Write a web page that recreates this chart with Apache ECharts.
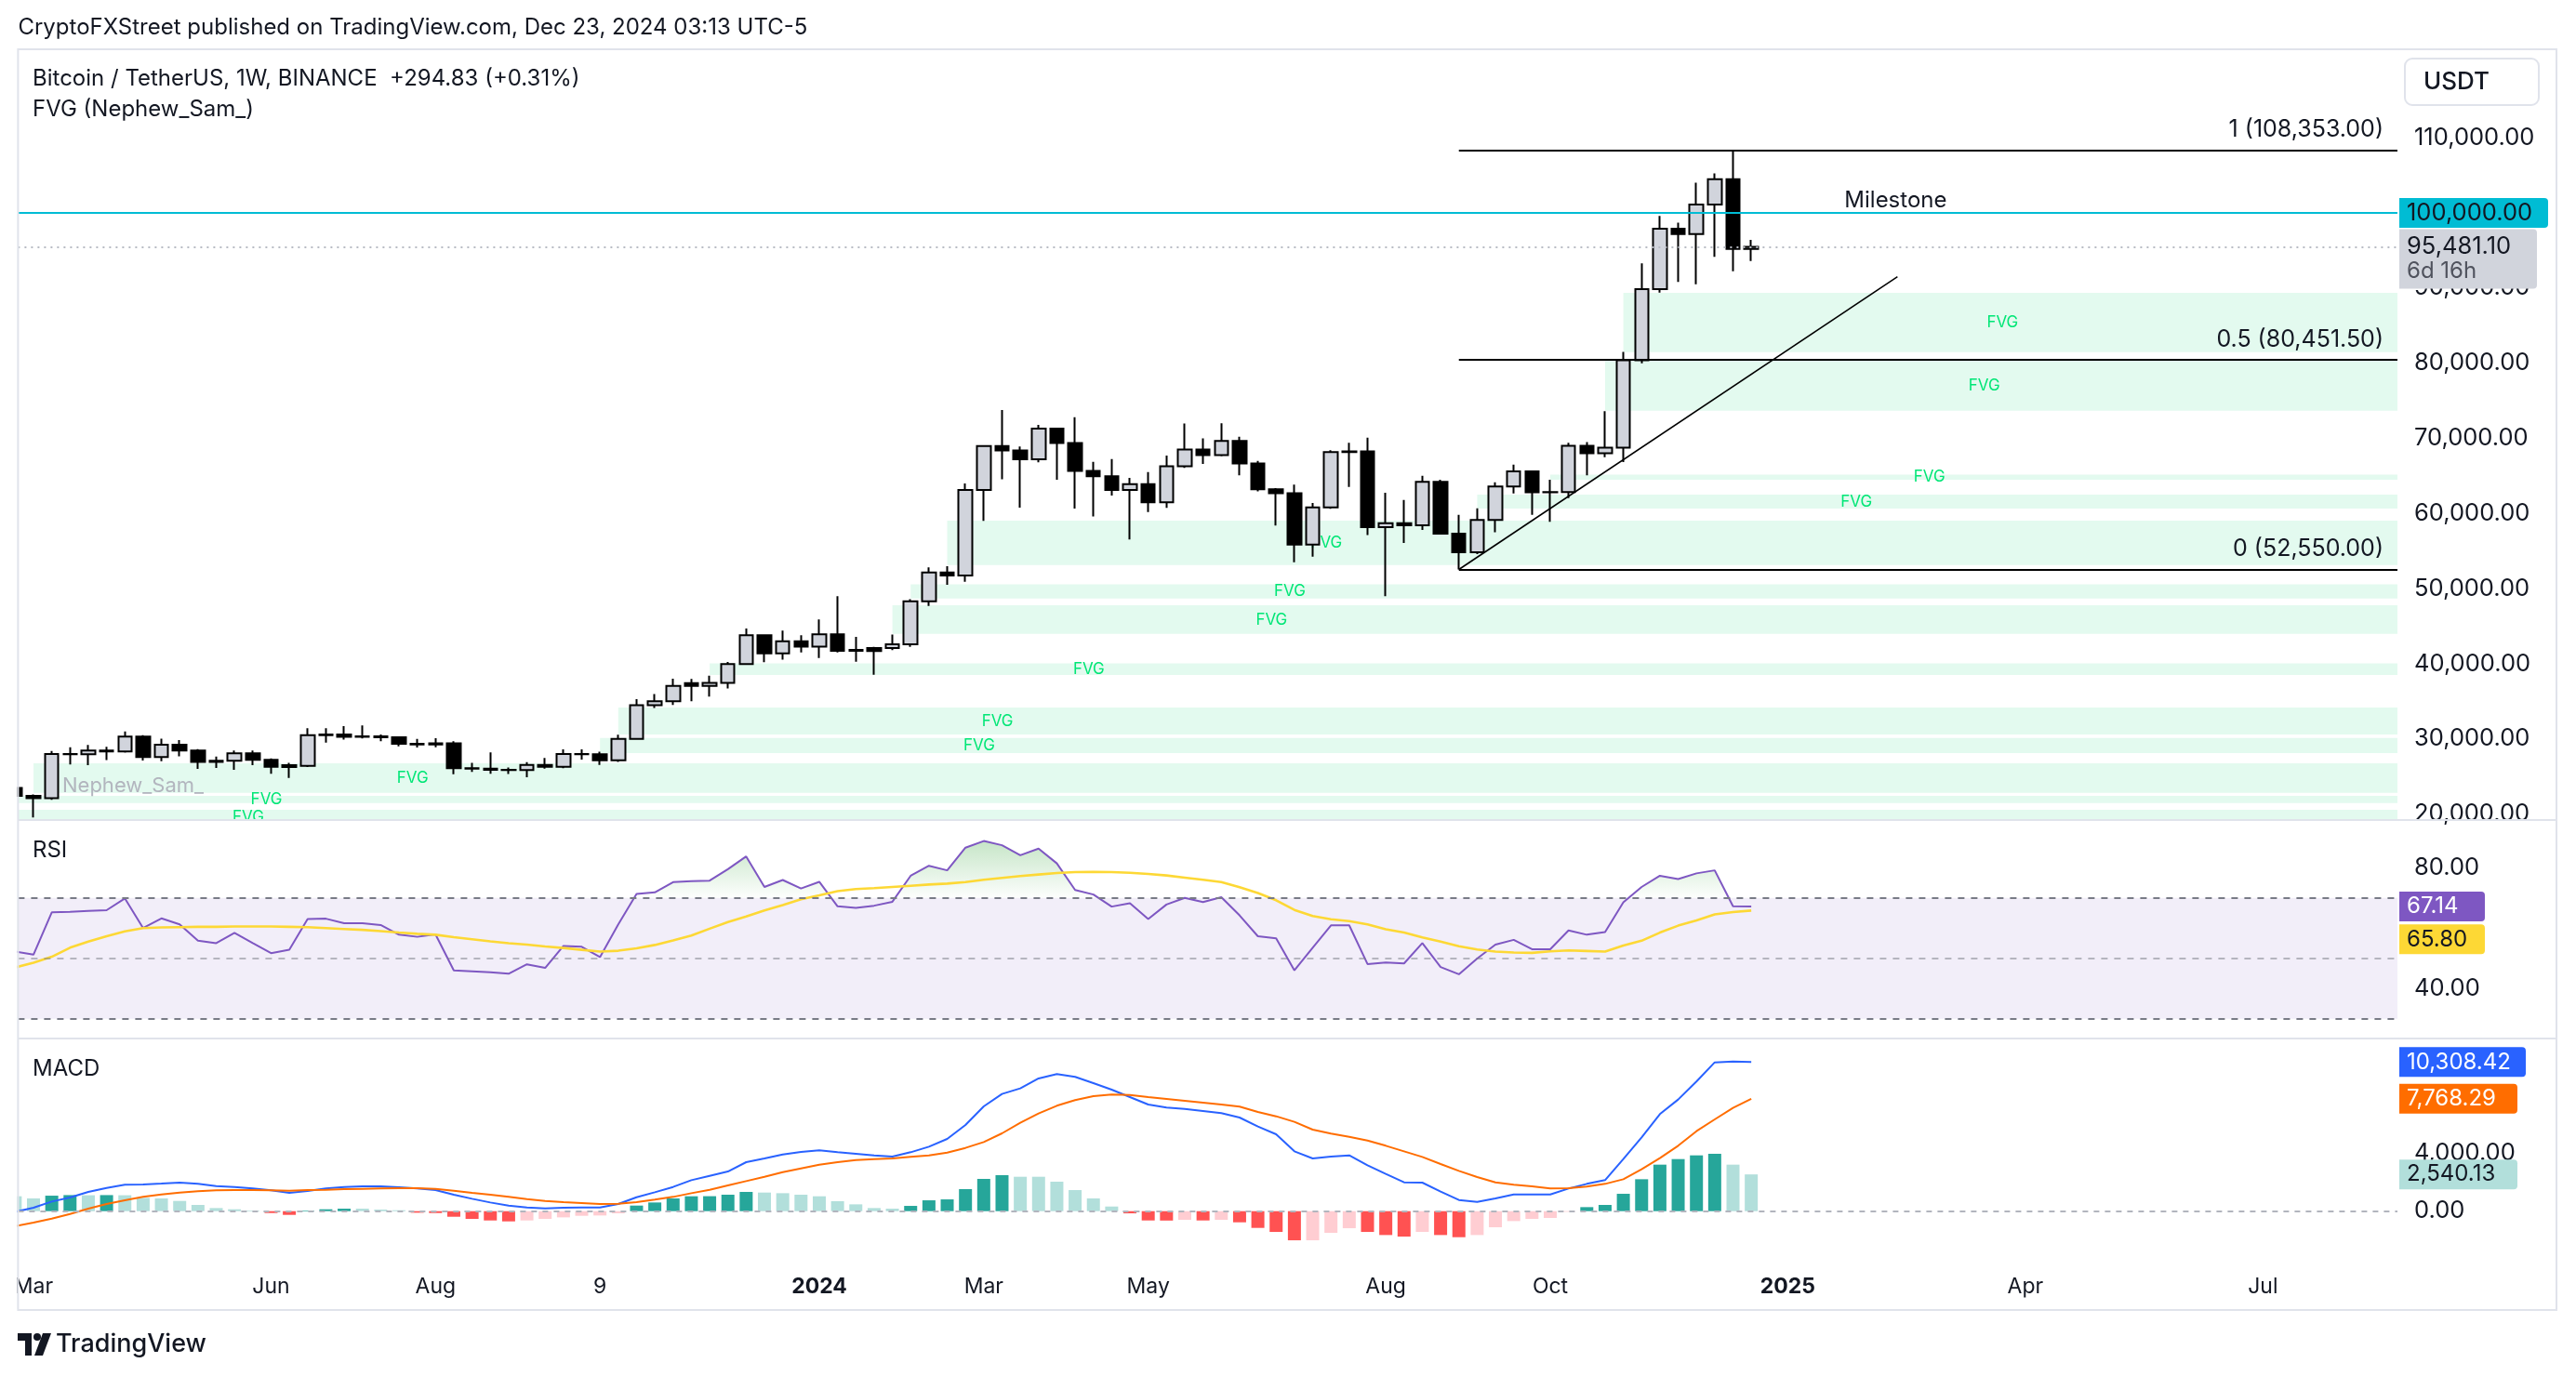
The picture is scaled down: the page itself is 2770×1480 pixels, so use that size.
<!DOCTYPE html>
<html><head><meta charset="utf-8">
<script src="https://cdn.jsdelivr.net/npm/echarts@6/dist/echarts.min.js"></script>
<style>html,body{margin:0;padding:0;background:#fff}#c{width:2770px;height:1480px}</style>
</head><body><div id="c"></div>
<script>
// Weekly BTC/USDT candles, first bar = week of 2023-02-27 (index -1), last = week of 2024-12-23 (index 94)
const firstIndex = -1;
const open = [23490,22430,22120,28000,27970,28450,28320,30300,27600,29230,
 28450,26930,27100,28080,27230,26500,26400,30500,30600,30280,
 30330,30230,29360,29250,29400,26100,26050,25900,25850,26550,
 26300,27980,27950,27150,29990,34500,35010,37420,37060,37450,
 39970,43790,41370,42990,42280,43930,41730,42085,42085,42580,
 48300,52140,51730,63110,68960,68390,67210,71280,69360,65660,
 64940,63120,63900,61480,66270,68500,67770,69650,66640,63210,
 62680,55860,60800,68165,68250,58160,58710,58425,64220,57300,
 54840,59130,63580,65600,62820,62850,69000,68020,68740,80370,
 89855,97900,97185,101110,104463,95186.27];
const high = [23880,22600,28390,28880,29200,28950,31000,30500,30040,29840,
 28630,27660,28450,28450,27400,26800,31430,31430,31700,31800,
 30600,30330,30000,30100,29700,26800,28200,26200,26900,27480,
 28600,28600,28300,30550,35300,35980,38000,37980,38420,40250,
 44700,43800,44400,43800,45900,49000,43580,42260,43880,48590,
 52820,52985,64000,69000,73777,68920,71770,71340,72800,66870,
 67230,64730,65500,67700,71980,70000,71997,70195,67000,63370,
 63850,61400,68400,69400,70080,62750,61800,65000,64480,59800,
 60670,64130,66500,65620,64480,69400,69500,73620,81500,93265,
 99588,98700,104000,105250,108353,96400];
const low = [21970,19550,21900,26600,26520,27200,28170,27130,27020,27670,
 26000,26120,25880,26500,25350,24800,26250,29500,29900,30050,
 29700,29000,28860,28900,25300,25600,25350,25340,24900,26050,
 26100,27250,26550,26950,29880,34100,34530,35000,35630,36700,
 39970,40220,40550,41520,40750,41500,40280,38550,41800,42260,
 47700,50520,50900,59005,64533,60775,66810,64490,60660,59600,
 62390,56550,60190,60750,66060,66600,67600,65080,62930,58400,
 53500,54260,60630,63530,57120,49000,56080,57790,57200,52550,
 54580,57490,62670,59830,58900,62030,65060,67480,66835,79990,
 89376,90790,90500,94150,92232,93600];
const close = [22430,22120,28000,27970,28450,28320,30300,27600,29230,28450,
 26930,27100,28080,27230,26300,26250,30500,30580,30280,30330,
 30230,29360,29250,29400,26100,26050,25900,25850,26550,26300,
 27980,27950,27150,29990,34500,35010,37060,37060,37450,39970,
 43790,41370,42990,42280,43930,41730,41850,41680,42580,48300,
 52140,51730,63110,68960,68390,67210,71280,69360,65660,64940,
 63120,63900,61480,66270,68500,67770,69650,66640,63210,62680,
 55860,60800,68165,68250,58160,58710,58425,64220,57300,54840,
 59130,63580,65600,62820,62850,69000,68020,68740,80370,89855,
 97900,97185,101110,104463,95186.27,95481.10];

// RSI(14) and its moving average
const rsi = [52.2,51.2,65.2,65.4,65.7,65.9,69.8,60.0,63.2,61.2,
 55.8,55.0,58.4,55.0,51.7,52.8,63.0,63.1,61.6,61.6,
 61.0,57.8,57.1,57.9,46.0,45.7,45.4,44.9,48.0,46.8,
 54.1,53.8,50.4,61.2,71.3,71.8,75.2,75.5,75.7,79.5,
 83.7,73.6,75.9,73.1,75.3,67.2,66.7,67.4,68.7,77.3,
 80.6,79.1,86.6,88.8,87.4,84.1,86.3,81.4,72.6,71.1,
 67.1,68.2,63.0,67.8,70.0,68.6,70.2,64.2,57.3,56.6,
 46.0,53.5,60.9,60.9,48.1,48.6,48.3,55.0,47.1,44.7,
 49.9,54.5,56.1,53.0,53.0,59.2,57.8,58.7,68.5,73.6,
 77.3,76.2,78.1,79.1,67.2,67.14];
const rsiMa = [47.0,48.5,50.5,53.5,55.5,57.3,58.9,60.0,60.2,60.3,
 60.4,60.4,60.5,60.5,60.5,60.4,60.3,60.0,59.7,59.4,
 59.0,58.5,58.1,57.8,57.0,56.3,55.6,55.0,54.5,53.9,
 53.4,52.8,52.2,52.5,53.3,54.4,55.9,57.5,59.8,62.0,
 63.8,65.8,67.6,69.5,70.8,72.2,72.9,73.2,73.6,74.0,
 74.4,74.7,75.2,76.0,76.6,77.2,77.7,78.2,78.5,78.6,
 78.5,78.3,77.9,77.4,76.7,76.0,75.2,73.5,71.6,69.2,
 66.0,64.0,62.9,62.3,61.2,59.6,58.5,56.9,55.5,54.0,
 52.9,52.2,51.9,51.8,52.3,52.6,52.4,52.2,54.2,55.8,
 58.5,60.8,62.5,64.5,65.3,65.80];

// MACD (12,26,9)
const macd = [-50,236,664,943,1329,1607,1822,1843,1907,1972,
 1886,1736,1672,1564,1436,1264,1393,1564,1672,1714,
 1714,1650,1564,1457,1136,857,600,386,257,193,
 236,257,257,493,964,1307,1672,2143,2443,2743,
 3386,3643,3922,4093,4200,4072,3965,3857,3772,4072,
 4457,4993,5958,7243,8100,8486,9172,9472,9279,8851,
 8401,7886,7372,7158,7072,6922,6772,6472,5850,5315,
 4136,3643,3772,3857,3172,2572,1993,1972,1350,771,
 643,879,1157,1157,1157,1564,1886,2143,3600,5100,
 6707,7715,8958,10286,10340,10308.42];
const signal = [-1029,-793,-514,-193,171,493,750,986,1157,1286,
 1372,1436,1457,1457,1436,1414,1457,1479,1522,1543,
 1564,1586,1586,1543,1414,1264,1136,986,836,707,
 621,557,493,514,621,793,986,1243,1479,1779,
 2079,2379,2700,2957,3215,3386,3536,3600,3643,3750,
 3857,4050,4372,4779,5379,6108,6750,7286,7672,7951,
 8058,8036,7886,7758,7629,7501,7372,7222,6858,6558,
 6172,5636,5358,5143,4886,4522,4136,3750,3257,2786,
 2357,1993,1822,1714,1564,1586,1693,1886,2207,2893,
 3665,4522,5529,6343,7136,7768.29];
const hist = [1030,880,1070,1110,1100,1110,1100,920,880,707,
 430,214,129,43,-129,-257,43,129,171,171,
 107,64,-107,-129,-386,-536,-643,-707,-643,-536,
 -429,-321,-300,-150,386,600,879,1029,1035,1136,
 1329,1286,1243,1136,1029,686,471,214,171,364,
 750,814,1522,2229,2486,2379,2379,2036,1457,879,
 321,-150,-643,-650,-600,-643,-600,-771,-1157,-1436,
 -2014,-2014,-1500,-1179,-1436,-1650,-1757,-1436,-1650,-1800,
 -1650,-1114,-686,-536,-471,-43,279,429,1200,2207,
 3215,3600,3857,3964,3215,2540.13];

// FVG zones: start week index, top price, bottom price
const fvgStart  = [87, 86, 83, 79, 50, 48, 47, 37, 32, 31, 0, -8, -9];
const fvgTop    = [89350, 80360, 65180, 62500, 59035, 50580, 47776, 40060, 34164, 30123, 26740, 22410, 20555];
const fvgBottom = [81470, 73677, 64480, 60645, 53137, 48683, 43982, 38495, 30576, 28102, 22823, 21460, 18560];

// Fibonacci retracement drawn from the Sep-2024 swing low
const fibStartIndex = 78;
const fibLevels = [1, 0.5, 0];
const fibPrices = [108353.00, 80451.50, 52550.00];
// Trend line anchors [week index, price]
const trendFrom = [78, 52550];
const trendTo = [102, 91500];
// Milestone
const milestonePrice = 100000;
const milestoneIndex = 101.9;
const countdown = '6d 16h';

// Time axis ticks
const tickIdx = [0, 13, 22, 31, 43, 52, 61, 74, 83, 96, 109, 122];
const tickText = ['Mar', 'Jun', 'Aug', '9', '2024', 'Mar', 'May', 'Aug', 'Oct', '2025', 'Apr', 'Jul'];
const tickBold = [false, false, false, false, true, false, false, false, false, true, false, false];
const priceTicks = [20000, 30000, 40000, 50000, 60000, 70000, 80000, 90000, 100000, 110000];
const rsiTicks = [40, 80];
const macdTicks = [0, 4000];

// ---------------- layout ----------------
const FONT = 'Inter, Roboto, "Noto Sans", sans-serif';
const TXT = '#131722';
const PLOT_L = 19.4, PLOT_R = 2578;
const X_MIN = -0.845, X_MAX = 129.36;
const MAIN_T = 53, MAIN_B = 882, RSI_B = 1117, MACD_B = 1370, FRAME_B = 1409;
const P_MAX = 121762, P_MIN = 19207;
const R_MAX = 95.75, R_MIN = 23.45;
const M_MAX = 11934, M_MIN = -4325;
const FVG_LABEL_OFFSET = 20.75;
const AXIS_FS = 25.5;

const fmt2 = v => Number(v).toLocaleString('en-US', {minimumFractionDigits: 2, maximumFractionDigits: 2});
const xOf = i => i + firstIndex;

const candles = open.map((o, i) => [xOf(i), o, close[i], low[i], high[i]]);
const fvgRows = fvgStart.map((s, i) => [s, fvgTop[i], fvgBottom[i]]);
const last = a => a[a.length - 1];
const HIDDEN = {color: 'rgba(0,0,0,0)', width: 0};

function badge(bg, fg, w, extra) {
  return Object.assign({
    show: true, position: 'end', distance: 2, backgroundColor: bg, color: fg,
    fontFamily: FONT, fontSize: 24, lineHeight: 24, padding: [4, 8], width: w,
    align: 'left', borderRadius: [0, 4, 4, 0]
  }, extra || {});
}

const chart = echarts.init(document.getElementById('c'), null, {renderer: 'canvas'});

const xAxisBase = {type: 'value', min: X_MIN, max: X_MAX, axisLine: {show: false}, axisTick: {show: false}, splitLine: {show: false}};

const rsiGrad = new echarts.graphic.LinearGradient(0, MAIN_B, 0, 965.7, [
  {offset: 0, color: 'rgba(76,175,80,0.62)'},
  {offset: 0.999, color: 'rgba(76,175,80,0.02)'},
  {offset: 1, color: 'rgba(76,175,80,0)'}
], true);

const yLabel = (vals) => ({customValues: vals, formatter: v => fmt2(v), margin: 18, fontSize: AXIS_FS, color: TXT, fontFamily: FONT});

const option = {
  animation: false,
  backgroundColor: '#ffffff',
  textStyle: {fontFamily: FONT},
  grid: [
    {left: PLOT_L, width: PLOT_R - PLOT_L, top: MAIN_T, height: MAIN_B - MAIN_T},
    {left: PLOT_L, width: PLOT_R - PLOT_L, top: MAIN_B, height: RSI_B - MAIN_B},
    {left: PLOT_L, width: PLOT_R - PLOT_L, top: RSI_B, height: MACD_B - RSI_B}
  ],
  xAxis: [
    Object.assign({gridIndex: 0, axisLabel: {show: false}}, xAxisBase),
    Object.assign({gridIndex: 1, axisLabel: {show: false}}, xAxisBase),
    Object.assign({gridIndex: 2, axisLabel: {
      show: true, customValues: tickIdx, margin: 3, fontSize: 23, color: TXT, fontFamily: FONT,
      formatter: v => { const k = tickIdx.indexOf(Math.round(v)); if (k < 0) return ''; return tickBold[k] ? '{b|' + tickText[k] + '}' : tickText[k]; },
      rich: {b: {fontWeight: 700, fontSize: 23, color: TXT, fontFamily: FONT}}
    }}, xAxisBase)
  ],
  yAxis: [
    {type: 'value', gridIndex: 0, position: 'right', min: P_MIN, max: P_MAX, splitLine: {show: false}, axisLine: {show: false}, axisTick: {show: false}, axisLabel: yLabel(priceTicks)},
    {type: 'value', gridIndex: 1, position: 'right', min: R_MIN, max: R_MAX, splitLine: {show: false}, axisLine: {show: false}, axisTick: {show: false}, axisLabel: yLabel(rsiTicks)},
    {type: 'value', gridIndex: 2, position: 'right', min: M_MIN, max: M_MAX, splitLine: {show: false}, axisLine: {show: false}, axisTick: {show: false}, axisLabel: yLabel(macdTicks)}
  ],
  series: [
    {
      type: 'custom', name: 'FVG', xAxisIndex: 0, yAxisIndex: 0, clip: true, z: 1, silent: true,
      data: fvgRows,
      renderItem: (params, api) => {
        const s = api.value(0), t = api.value(1), b = api.value(2);
        const cs = params.coordSys;
        const p1 = api.coord([s, t]), p2 = api.coord([s, b]);
        const lp = api.coord([s + FVG_LABEL_OFFSET, (t + b) / 2]);
        const x0 = Math.max(p1[0], cs.x);
        return {type: 'group', children: [
          {type: 'rect', shape: {x: x0, y: p1[1], width: cs.x + cs.width - x0, height: p2[1] - p1[1]},
           style: {fill: 'rgba(0,214,110,0.11)'}},
          {type: 'text', x: lp[0], y: lp[1], style: {text: 'FVG', fill: '#00e676', font: '17px ' + FONT, align: 'center', verticalAlign: 'middle'}}
        ]};
      }
    },
    {
      type: 'candlestick', name: 'BTCUSDT', xAxisIndex: 0, yAxisIndex: 0, z: 3, barWidth: 15,
      dimensions: ['idx', 'open', 'close', 'lowest', 'highest'],
      encode: {x: 'idx', y: ['open', 'close', 'lowest', 'highest']},
      data: candles,
      itemStyle: {color: '#d1d4dc', color0: '#000000', borderColor: '#000000', borderColor0: '#000000', borderWidth: 2},
      markLine: {
        silent: true, symbol: ['none', 'none'], animation: false, precision: 2,
        data: [
          {yAxis: milestonePrice, lineStyle: {color: '#00bcd4', width: 2, type: 'solid'},
           label: badge('#00bcd4', TXT, 144, {formatter: fmt2(milestonePrice), fontSize: AXIS_FS})},
          {yAxis: last(close), lineStyle: {color: '#b8bbc4', width: 2, type: [2, 5]},
           label: badge('#d1d4dc', TXT, 132, {formatter: '{a|' + fmt2(last(close)) + '}\n{b|' + countdown + '}', offset: [0, 13], lineHeight: 26, padding: [5, 8],
             rich: {a: {color: TXT, fontSize: AXIS_FS, fontFamily: FONT, lineHeight: 27}, b: {color: '#50535e', fontSize: 24, fontFamily: FONT, lineHeight: 27}}})}
        ].concat(fibPrices.map((p, k) => [
          {coord: [fibStartIndex, p], lineStyle: {color: '#000000', width: 2, type: 'solid'},
           label: {show: true, position: 'insideEndTop', distance: [15, 9], formatter: fibLevels[k] + ' (' + fmt2(p) + ')', color: TXT, fontSize: 25, fontFamily: FONT}},
          {coord: [X_MAX, p]}
        ])).concat([[
          {coord: trendFrom, lineStyle: {color: '#000000', width: 1.6, type: 'solid'}, label: {show: false}},
          {coord: trendTo}
        ]])
      },
      markPoint: {
        silent: true, animation: false,
        data: [{coord: [milestoneIndex, milestonePrice], symbol: 'circle', symbolSize: 1, itemStyle: {color: 'rgba(0,0,0,0)'},
          label: {show: true, position: 'top', distance: 1, formatter: 'Milestone', color: TXT, fontSize: 24, fontFamily: FONT}}]
      }
    },
    {
      type: 'line', name: 'RSI', xAxisIndex: 1, yAxisIndex: 1, z: 3, symbol: 'none', showSymbol: false,
      data: rsi.map((v, i) => [xOf(i), v]),
      lineStyle: {color: '#7e57c2', width: 2},
      areaStyle: {color: rsiGrad, origin: 70},
      markArea: {silent: true, itemStyle: {color: 'rgba(126,87,194,0.1)'}, data: [[{yAxis: 70}, {yAxis: 30}]]},
      markLine: {
        silent: true, symbol: ['none', 'none'], animation: false,
        data: [
          {yAxis: 70, lineStyle: {color: '#787b86', width: 2, type: [7, 7]}, label: {show: false}},
          {yAxis: 50, lineStyle: {color: 'rgba(120,123,134,0.5)', width: 2, type: [7, 7]}, label: {show: false}},
          {yAxis: 30, lineStyle: {color: '#787b86', width: 2, type: [7, 7]}, label: {show: false}},
          {yAxis: last(rsi), lineStyle: HIDDEN, label: badge('#7e57c2', '#ffffff', 76, {formatter: fmt2(last(rsi))})}
        ]
      }
    },
    {
      type: 'line', name: 'RSI MA', xAxisIndex: 1, yAxisIndex: 1, z: 4, symbol: 'none', showSymbol: false,
      data: rsiMa.map((v, i) => [xOf(i), v]),
      lineStyle: {color: '#fdd835', width: 2.6},
      markLine: {silent: true, symbol: ['none', 'none'], animation: false,
        data: [{yAxis: last(rsiMa), lineStyle: HIDDEN, label: badge('#fdd835', TXT, 76, {formatter: fmt2(last(rsiMa)), offset: [0, 31]})}]}
    },
    {
      type: 'bar', name: 'Histogram', xAxisIndex: 2, yAxisIndex: 2, z: 2, barWidth: 14,
      data: hist.map((h, i) => {
        const prev = i > 0 ? hist[i - 1] : Infinity;
        const c = h >= 0 ? (h > prev ? '#26a69a' : '#b2dfdb') : (h < prev ? '#ff5252' : '#ffcdd2');
        return {value: [xOf(i), h], itemStyle: {color: c}};
      }),
      markLine: {silent: true, symbol: ['none', 'none'], animation: false,
        data: [
          {yAxis: 0, lineStyle: {color: '#b2b5be', width: 2, type: [6, 6]}, label: {show: false}},
          {yAxis: last(hist), lineStyle: HIDDEN, label: badge('#b2dfdb', TXT, 111, {formatter: fmt2(last(hist))})}
        ]}
    },
    {
      type: 'line', name: 'MACD', xAxisIndex: 2, yAxisIndex: 2, z: 4, symbol: 'none', showSymbol: false,
      data: macd.map((v, i) => [xOf(i), v]),
      lineStyle: {color: '#2962ff', width: 2},
      markLine: {silent: true, symbol: ['none', 'none'], animation: false,
        data: [{yAxis: last(macd), lineStyle: HIDDEN, label: badge('#2962ff', '#ffffff', 120, {formatter: fmt2(last(macd))})}]}
    },
    {
      type: 'line', name: 'Signal', xAxisIndex: 2, yAxisIndex: 2, z: 4, symbol: 'none', showSymbol: false,
      data: signal.map((v, i) => [xOf(i), v]),
      lineStyle: {color: '#ff6d00', width: 2},
      markLine: {silent: true, symbol: ['none', 'none'], animation: false,
        data: [{yAxis: last(signal), lineStyle: HIDDEN, label: badge('#ff6d00', '#ffffff', 111, {formatter: fmt2(last(signal))})}]}
    }
  ],
  graphic: [
    // white margin left of the frame (clips the partial first bar and first time label like the original)
    {type: 'rect', z: 100, shape: {x: 0, y: MAIN_T, width: 18.4, height: FRAME_B - MAIN_T}, style: {fill: '#ffffff'}},
    {type: 'rect', z: 101, shape: {x: 19.4, y: MAIN_T, width: 2749 - 19.4, height: FRAME_B - MAIN_T}, style: {fill: 'none', stroke: '#e0e3eb', lineWidth: 2}},
    {type: 'line', z: 101, shape: {x1: 19.4, y1: MAIN_B, x2: 2749, y2: MAIN_B}, style: {stroke: '#e0e3eb', lineWidth: 2}},
    {type: 'line', z: 101, shape: {x1: 19.4, y1: RSI_B, x2: 2749, y2: RSI_B}, style: {stroke: '#e0e3eb', lineWidth: 2}},
    {type: 'text', x: 19.4, y: 30, style: {text: 'CryptoFXStreet published on TradingView.com, Dec 23, 2024 03:13 UTC-5', font: '24px ' + FONT, fill: TXT, verticalAlign: 'middle'}},
    {type: 'text', x: 35, y: 85, style: {text: 'Bitcoin / TetherUS, 1W, BINANCE  +294.83 (+0.31%)', font: '24px ' + FONT, fill: TXT, verticalAlign: 'middle'}},
    {type: 'text', x: 35, y: 118, style: {text: 'FVG (Nephew_Sam_)', font: '24px ' + FONT, fill: TXT, verticalAlign: 'middle'}},
    {type: 'text', x: 35, y: 915, style: {text: 'RSI', font: '24px ' + FONT, fill: TXT, verticalAlign: 'middle'}},
    {type: 'text', x: 35, y: 1150, style: {text: 'MACD', font: '24px ' + FONT, fill: TXT, verticalAlign: 'middle'}},
    {type: 'text', x: 67, y: 845, z: 5, style: {text: 'Nephew_Sam_', font: '22px ' + FONT, fill: '#b2b5be', verticalAlign: 'middle'}},
    {type: 'rect', shape: {x: 2586, y: 63, width: 144, height: 50, r: 8}, style: {fill: '#ffffff', stroke: '#e0e3eb', lineWidth: 2}},
    {type: 'text', x: 2606, y: 88, style: {text: 'USDT', font: '500 26px ' + FONT, fill: TXT, verticalAlign: 'middle'}},
    // TradingView logo
    {type: 'polygon', shape: {points: [[19, 1434], [34, 1434], [34, 1458], [27, 1458], [27, 1442], [19, 1442]]}, style: {fill: TXT}},
    {type: 'circle', shape: {cx: 40, cy: 1438, r: 4}, style: {fill: TXT}},
    {type: 'polygon', shape: {points: [[46, 1434], [55, 1434], [46, 1458], [37, 1458]]}, style: {fill: TXT}},
    {type: 'text', x: 60, y: 1446, style: {text: 'TradingView', font: '500 27px ' + FONT, fill: TXT, verticalAlign: 'middle'}}
  ]
};
chart.setOption(option);
</script></body></html>
